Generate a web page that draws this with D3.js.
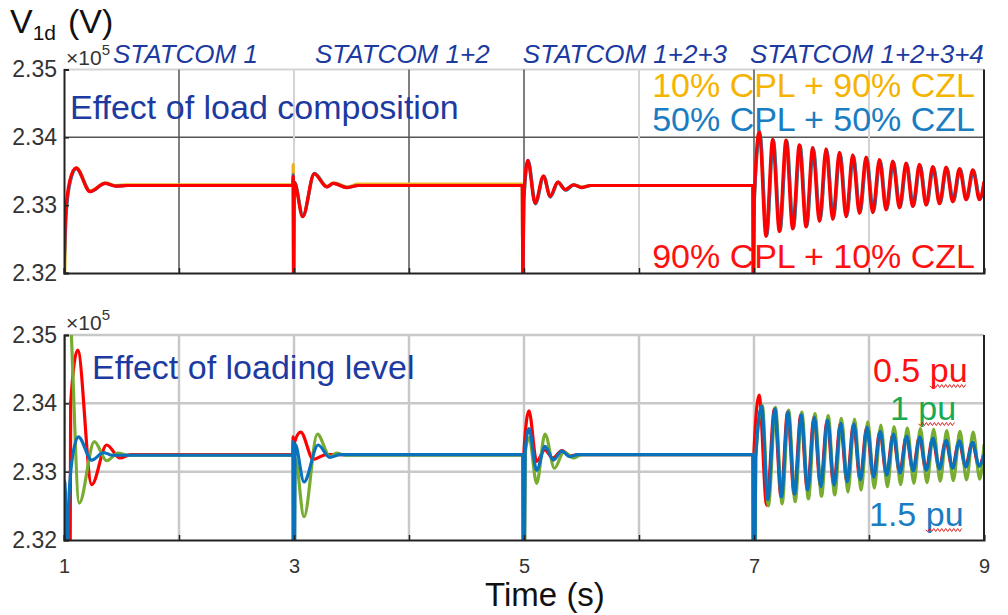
<!DOCTYPE html>
<html lang="en">
<head>
  <meta charset="UTF-8">
  <title>V1d response to STATCOM switching</title>
  <script src="https://d3js.org/d3.v7.min.js"></script>
  <style>
    body { margin: 0; background: #fff; }
    svg text { font-family: "Liberation Sans", Arial, sans-serif; }
  </style>
</head>
<body>
<svg id="chart" width="1008" height="615"></svg>
<script>
  // axis values
  const xTicks = [1, 2, 3, 4, 5, 6, 7, 8, 9];
  const xTickLabels = [1, 3, 5, 7, 9];
  const yTicks = [2.32, 2.33, 2.34, 2.35];
  const stageNames = ["STATCOM 1", "STATCOM 1+2", "STATCOM 1+2+3", "STATCOM 1+2+3+4"];
  const stageStarts = [1.426, 3.183, 4.99, 6.965];

  // top panel: effect of load composition  [time (s), V1d (x1e5 V)]
  const cpl10 = [
    [1.000,2.3276],[1.005,2.3200],[1.018,2.3288],[1.055,2.3336],[1.108,2.3355],[1.230,2.3321],[1.360,2.3333],[1.450,2.3329],[1.550,2.3330],[2.990,2.3330],
    [2.993,2.3360],[2.998,2.3180],[3.004,2.3334],[3.078,2.3284],[3.178,2.3347],[3.287,2.3328],[3.345,2.3333],[3.465,2.3327],[3.560,2.3331],[4.000,2.3331],[4.500,2.3331],[4.984,2.3331],
    [4.990,2.3180],[5.000,2.3310],[5.036,2.3364],[5.100,2.3303],[5.172,2.3342],[5.230,2.3313],[5.297,2.3334],[5.362,2.3323],[5.434,2.3330],[5.505,2.3327],[5.585,2.3329],[6.990,2.3329],
    [6.995,2.3180],[7.004,2.3310],[7.052,2.3404],[7.110,2.3256],[7.168,2.3396],[7.226,2.3262],[7.284,2.3395],[7.342,2.3266],[7.400,2.3388],[7.458,2.3269],[7.516,2.3384],[7.574,2.3277],
    [7.632,2.3382],[7.690,2.3280],[7.748,2.3377],[7.806,2.3284],[7.864,2.3373],[7.922,2.3289],[7.980,2.3370],[8.038,2.3290],[8.096,2.3366],[8.154,2.3294],[8.212,2.3364],[8.270,2.3297],
    [8.328,2.3361],[8.386,2.3299],[8.444,2.3359],[8.502,2.3301],[8.560,2.3356],[8.618,2.3303],[8.676,2.3355],[8.734,2.3306],[8.792,2.3353],[8.850,2.3309],[8.908,2.3351],[8.966,2.3309],[9.000,2.3330]
  ];
  const cpl50 = [
    [1.000,2.3200],[1.018,2.3285],[1.055,2.3335],[1.108,2.3354],[1.230,2.3320],[1.360,2.3332],[1.450,2.3328],[1.550,2.3329],[2.990,2.3329],
    [2.993,2.3345],[2.997,2.3180],[3.003,2.3334],[3.078,2.3284],[3.178,2.3347],[3.287,2.3327],[3.345,2.3332],[3.465,2.3326],[3.560,2.3329],[4.986,2.3329],
    [4.989,2.3180],[5.000,2.3310],[5.036,2.3366],[5.100,2.3302],[5.172,2.3343],[5.230,2.3312],[5.297,2.3334],[5.362,2.3322],[5.434,2.3330],[5.505,2.3326],[5.585,2.3329],[6.990,2.3329],
    [6.995,2.3180],[7.004,2.3310],[7.052,2.3405],[7.110,2.3255],[7.168,2.3396],[7.226,2.3262],[7.284,2.3395],[7.342,2.3266],[7.400,2.3388],[7.458,2.3269],[7.516,2.3384],[7.574,2.3277],
    [7.632,2.3382],[7.690,2.3280],[7.748,2.3377],[7.806,2.3284],[7.864,2.3373],[7.922,2.3289],[7.980,2.3370],[8.038,2.3290],[8.096,2.3366],[8.154,2.3294],[8.212,2.3364],[8.270,2.3297],
    [8.328,2.3361],[8.386,2.3299],[8.444,2.3359],[8.502,2.3301],[8.560,2.3356],[8.618,2.3303],[8.676,2.3355],[8.734,2.3306],[8.792,2.3353],[8.850,2.3309],[8.908,2.3351],[8.966,2.3309],[9.000,2.3330]
  ];
  const cpl90 = [
    [1.000,2.3200],[1.015,2.3288],[1.050,2.3336],[1.104,2.3355],[1.226,2.3320],[1.357,2.3332],[1.450,2.3328],[1.550,2.3329],[2.990,2.3329],
    [2.993,2.3343],[2.996,2.3180],[3.002,2.3334],[3.075,2.3283],[3.175,2.3346],[3.284,2.3327],[3.340,2.3332],[3.460,2.3326],[3.560,2.3329],[4.985,2.3329],
    [4.990,2.3180],[4.998,2.3310],[5.032,2.3366],[5.096,2.3303],[5.168,2.3343],[5.226,2.3313],[5.293,2.3334],[5.357,2.3323],[5.429,2.3330],[5.500,2.3326],[5.580,2.3329],[6.990,2.3329],
    [6.994,2.3180],[7.002,2.3310],[7.046,2.3409],[7.104,2.3254],[7.162,2.3397],[7.220,2.3261],[7.278,2.3396],[7.336,2.3265],[7.394,2.3389],[7.452,2.3268],[7.510,2.3385],[7.568,2.3276],
    [7.626,2.3383],[7.684,2.3279],[7.742,2.3378],[7.800,2.3283],[7.858,2.3374],[7.916,2.3288],[7.974,2.3371],[8.032,2.3289],[8.090,2.3367],[8.148,2.3293],[8.206,2.3365],[8.264,2.3296],
    [8.322,2.3362],[8.380,2.3298],[8.438,2.3360],[8.496,2.3300],[8.554,2.3357],[8.612,2.3302],[8.670,2.3356],[8.728,2.3305],[8.786,2.3354],[8.844,2.3308],[8.902,2.3352],[8.960,2.3308],[9.000,2.3335]
  ];

  // bottom panel: effect of loading level
  const pu05 = [
    [1.000,2.3100],[1.052,2.3100],[1.058,2.3400],[1.119,2.3478],[1.241,2.3281],[1.371,2.3339],[1.487,2.3320],[1.580,2.3325],[2.990,2.3325],
    [2.992,2.3351],[2.995,2.3100],[3.000,2.3340],[3.058,2.3358],[3.168,2.3318],[3.280,2.3325],[4.990,2.3325],
    [4.994,2.3100],[5.000,2.3330],[5.043,2.3389],[5.110,2.3315],[5.180,2.3332],[5.250,2.3320],[5.330,2.3331],[5.400,2.3323],[5.470,2.3325],[6.990,2.3325],
    [6.994,2.3100],[7.000,2.3330],[7.045,2.3412],[7.110,2.3251],[7.178,2.3392],[7.235,2.3263],[7.292,2.3387],[7.349,2.3267],[7.407,2.3383],[7.464,2.3273],
    [7.521,2.3380],[7.578,2.3278],[7.636,2.3376],[7.693,2.3280],[7.751,2.3371],[7.808,2.3285],[7.865,2.3370],[7.922,2.3288],[7.980,2.3365],[8.037,2.3292],
    [8.094,2.3359],[8.151,2.3295],[8.209,2.3355],[8.266,2.3298],[8.324,2.3352],[8.381,2.3301],[8.438,2.3351],[8.495,2.3302],[8.553,2.3349],[8.610,2.3304],
    [8.667,2.3346],[8.724,2.3305],[8.782,2.3345],[8.839,2.3307],[8.897,2.3343],[8.954,2.3308],[9.000,2.3328]
  ];
  const pu1 = [
    [1.000,2.3100],[1.004,2.3600],[1.045,2.3560],[1.133,2.3254],[1.264,2.3344],[1.371,2.3316],[1.472,2.3327],[1.560,2.3324],[2.990,2.3324],
    [2.995,2.3100],[3.000,2.3100],[3.010,2.3320],[3.087,2.3234],[3.203,2.3355],[3.313,2.3322],[3.370,2.3327],[3.450,2.3324],[4.990,2.3324],
    [4.996,2.3100],[5.002,2.3100],[5.012,2.3330],[5.045,2.3350],[5.110,2.3283],[5.183,2.3355],[5.265,2.3305],[5.347,2.3329],[5.430,2.3320],[5.500,2.3325],[6.990,2.3325],
    [6.997,2.3100],[7.005,2.3100],[7.015,2.3320],[7.072,2.3397],[7.125,2.3250],[7.187,2.3394],[7.244,2.3253],[7.301,2.3390],[7.358,2.3256],[7.416,2.3387],[7.473,2.3260],
    [7.530,2.3385],[7.587,2.3264],[7.645,2.3382],[7.702,2.3266],[7.760,2.3378],[7.817,2.3270],[7.874,2.3377],[7.931,2.3273],[7.989,2.3373],[8.046,2.3276],
    [8.103,2.3368],[8.160,2.3278],[8.218,2.3366],[8.275,2.3281],[8.333,2.3364],[8.390,2.3283],[8.447,2.3363],[8.504,2.3284],[8.562,2.3362],[8.619,2.3286],
    [8.676,2.3360],[8.733,2.3287],[8.791,2.3359],[8.848,2.3288],[8.906,2.3358],[8.963,2.3289],[9.000,2.3340]
  ];
  const pu15 = [
    [1.000,2.3100],[1.004,2.3287],[1.012,2.3270],[1.018,2.3100],[1.025,2.3100],[1.040,2.3249],[1.070,2.3317],[1.125,2.3351],[1.241,2.3317],[1.345,2.3328],[1.420,2.3324],[2.990,2.3324],
    [2.993,2.3344],[2.997,2.3100],[3.003,2.3100],[3.010,2.3340],[3.087,2.3285],[3.210,2.3339],[3.310,2.3321],[3.400,2.3325],[4.990,2.3325],
    [4.996,2.3100],[5.000,2.3100],[5.010,2.3330],[5.043,2.3363],[5.110,2.3302],[5.183,2.3337],[5.255,2.3317],[5.328,2.3330],[5.400,2.3322],[5.470,2.3325],[6.990,2.3325],
    [6.998,2.3100],[7.005,2.3100],[7.015,2.3320],[7.067,2.3396],[7.120,2.3259],[7.182,2.3392],[7.239,2.3263],[7.296,2.3387],[7.353,2.3267],[7.411,2.3383],[7.468,2.3273],
    [7.525,2.3380],[7.582,2.3278],[7.640,2.3376],[7.697,2.3280],[7.755,2.3371],[7.812,2.3285],[7.869,2.3370],[7.926,2.3288],[7.984,2.3365],[8.041,2.3292],
    [8.098,2.3359],[8.155,2.3295],[8.213,2.3355],[8.270,2.3298],[8.328,2.3352],[8.385,2.3301],[8.442,2.3351],[8.499,2.3302],[8.557,2.3349],[8.614,2.3304],
    [8.671,2.3346],[8.728,2.3305],[8.786,2.3345],[8.843,2.3307],[8.901,2.3343],[8.958,2.3308],[9.000,2.3325]
  ];

  const topGridDark = [2, 4, 5, 7];
  const topGridLight = [3, 6, 8];

  const svg = d3.select("#chart");
  const left = 64, right = 984;
  const x = d3.scaleLinear().domain([1, 9]).range([left, right]);

  const titleBlue = "#1c3aa0";
  const line = yScale => d3.line()
    .x(d => x(d[0]))
    .y(d => yScale(d[1]))
    .curve(d3.curveMonotoneX);

  const panels = [
    {
      id: "top", top: 69.5, bottom: 273,
      series: [
        { data: cpl10, color: "#edb120" },
        { data: cpl50, color: "#1f77c0" },
        { data: cpl90, color: "#ff0000" }
      ]
    },
    {
      id: "bot", top: 335, bottom: 540,
      series: [
        { data: pu05, color: "#ff0000" },
        { data: pu1, color: "#77ac30" },
        { data: pu15, color: "#0a72bd" }
      ]
    }
  ];

  panels.forEach(p => {
    const y = d3.scaleLinear().domain([2.32, 2.35]).range([p.bottom, p.top]);
    p.y = y;
    const g = svg.append("g");

    svg.append("clipPath").attr("id", "clip-" + p.id)
      .append("rect").attr("x", left).attr("y", p.top)
      .attr("width", right - left).attr("height", p.bottom - p.top);

    // gridlines
    if (p.id === "top") {
      g.append("line").attr("x1", left).attr("x2", right)
        .attr("y1", y(2.35)).attr("y2", y(2.35))
        .attr("stroke", "#d4d4d4").attr("stroke-width", 2);
      g.append("line").attr("x1", left).attr("x2", right)
        .attr("y1", y(2.34)).attr("y2", y(2.34))
        .attr("stroke", "#555").attr("stroke-width", 1.5);
      g.selectAll(".gd").data(topGridDark).join("line")
        .attr("x1", d => x(d)).attr("x2", d => x(d))
        .attr("y1", p.top).attr("y2", p.bottom)
        .attr("stroke", "#555").attr("stroke-width", 1.5);
      g.selectAll(".gl").data(topGridLight).join("line")
        .attr("x1", d => x(d)).attr("x2", d => x(d))
        .attr("y1", p.top).attr("y2", p.bottom)
        .attr("stroke", "#d4d4d4").attr("stroke-width", 2);
    } else {
      g.selectAll(".gh").data([2.33, 2.34, 2.35]).join("line")
        .attr("x1", left).attr("x2", right)
        .attr("y1", d => y(d)).attr("y2", d => y(d))
        .attr("stroke", "#c8c8c8").attr("stroke-width", 2.5);
      g.selectAll(".gv").data(xTicks.slice(1, -1)).join("line")
        .attr("x1", d => x(d)).attr("x2", d => x(d))
        .attr("y1", p.top).attr("y2", p.bottom)
        .attr("stroke", "#c8c8c8").attr("stroke-width", 2.5);
    }

    // curves
    const lines = g.append("g").attr("clip-path", `url(#clip-${p.id})`);
    p.series.forEach(s => {
      lines.append("path")
        .attr("d", line(y)(s.data))
        .attr("fill", "none")
        .attr("stroke", s.color)
        .attr("stroke-width", 3.2)
        .attr("stroke-linejoin", "round");
    });

    // axes
    const yAxis = d3.axisLeft(y).tickValues(yTicks)
      .tickFormat(d3.format(".2f")).tickSize(-5).tickPadding(7);
    const ya = g.append("g").attr("transform", `translate(${left},0)`).call(yAxis);
    const xAxis = d3.axisBottom(x).tickValues(xTicks)
      .tickFormat(d => (p.id === "bot" && xTickLabels.includes(d)) ? d : "")
      .tickSize(-5).tickPadding(19);
    const xa = g.append("g").attr("transform", `translate(0,${p.bottom})`).call(xAxis);

    [ya, xa].forEach(a => {
      a.select(".domain").attr("stroke", "#222").attr("stroke-width", 2);
      a.selectAll(".tick line").attr("stroke", "#222").attr("stroke-width", 1.5);
      a.selectAll("text").attr("fill", "#333").style("font-size", "23px");
    });
    xa.selectAll("text").style("font-size", "20px");

    // right border
    g.append("line").attr("x1", right).attr("x2", right)
      .attr("y1", p.top).attr("y2", p.bottom)
      .attr("stroke", "#222").attr("stroke-width", 2);

    // exponent label
    const ex = g.append("text").attr("x", left + 2).attr("y", p.top - 5)
      .attr("fill", "#333").style("font-size", "21px");
    ex.append("tspan").text("\u00d710");
    ex.append("tspan").attr("dy", -10).style("font-size", "15px").text("5");
  });

  // y-axis title
  const yt = svg.append("text").attr("x", 10).attr("y", 33).attr("fill", "#111").style("font-size", "34px");
  yt.append("tspan").text("V");
  yt.append("tspan").attr("dy", 7).style("font-size", "21px").text("1d");
  yt.append("tspan").attr("dy", -7).attr("dx", 12).text("(V)");

  // stage labels
  svg.selectAll(".stage").data(stageNames).join("text")
    .attr("x", (d, i) => x(stageStarts[i]))
    .attr("y", 63)
    .attr("fill", titleBlue)
    .style("font-size", "26px")
    .style("font-style", "italic")
    .text(d => d);

  // panel titles
  svg.append("text").attr("x", 70).attr("y", 119).attr("fill", titleBlue)
    .style("font-size", "34px").text("Effect of load composition");
  svg.append("text").attr("x", 92).attr("y", 379).attr("fill", titleBlue)
    .style("font-size", "34px").text("Effect of loading level");

  // legend text, top panel
  const topLegend = [
    { label: "10% CPL + 90% CZL", color: "#f5b400", y: 97 },
    { label: "50% CPL + 50% CZL", color: "#1a7dc2", y: 131 },
    { label: "90% CPL + 10% CZL", color: "#ff1010", y: 268 }
  ];
  svg.selectAll(".tl").data(topLegend).join("text")
    .attr("x", 975).attr("y", d => d.y).attr("text-anchor", "end")
    .attr("fill", d => d.color).style("font-size", "34px").text(d => d.label);

  // legend text, bottom panel, with the spell-check squiggle under "pu"
  const botLegend = [
    { num: "0.5 ", color: "#ff1010", x: 873, y: 382 },
    { num: "1 ", color: "#18aa50", x: 890, y: 420 },
    { num: "1.5 ", color: "#1a7dc2", x: 869, y: 526 }
  ];
  botLegend.forEach(d => {
    const t = svg.append("text").attr("x", d.x).attr("y", d.y)
      .attr("fill", d.color).style("font-size", "34px");
    t.append("tspan").text(d.num);
    const pu = t.append("tspan").text("pu");
    const b = pu.node().getBBox();
    const yy = d.y + 4;
    let path = `M${b.x},${yy}`;
    for (let xx = b.x + 2, k = 0; xx <= b.x + b.width + 0.1; xx += 2, k++) {
      path += `L${xx},${yy + (k % 2 === 0 ? 1.5 : -1.5)}`;
    }
    svg.append("path").attr("d", path).attr("fill", "none")
      .attr("stroke", "#e02020").attr("stroke-width", 1);
  });

  // x-axis title
  svg.append("text").attr("x", 545).attr("y", 606).attr("text-anchor", "middle")
    .attr("fill", "#111").style("font-size", "33px").text("Time (s)");
</script>
</body>
</html>
